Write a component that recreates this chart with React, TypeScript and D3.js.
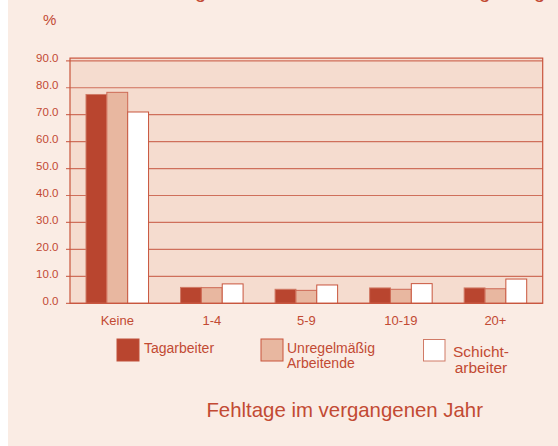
import * as d3 from "d3";

// Fehltage im vergangenen Jahr, Anteil in %
const categories = ["Keine", "1-4", "5-9", "10-19", "20+"];
const series = ["Tagarbeiter", "Unregelmäßig Arbeitende", "Schichtarbeiter"];
const tagarbeiter = [77.5, 5.9, 5.2, 5.7, 5.7];
const unregelmaessig = [78.3, 5.8, 4.8, 5.2, 5.4];
const schichtarbeiter = [71.0, 7.2, 6.8, 7.3, 9.0];
const yTicks = [0, 10, 20, 30, 40, 50, 60, 70, 80, 90];

const values = [tagarbeiter, unregelmaessig, schichtarbeiter];
const fills = ["#b9452f", "#e8b7a0", "#ffffff"];
const strokes = ["#d07a66", "#cd6a55", "#c8553d"];
const red = "#c24a33";

export default function App() {
  const width = 558;
  const height = 446;
  const left = 70;
  const right = 542.7;

  const x = d3.scaleBand().domain(categories).range([left, right]);
  const xs = d3
    .scaleBand()
    .domain(series)
    .range([16, x.bandwidth() - 16]);
  const y = d3.scaleLinear().domain([0, 90]).range([303.3, 60.8]);
  const top = y(91);

  return (
    <svg
      width={width}
      height={height}
      style={{ position: "absolute", left: 0, top: 0 }}
      fontFamily="'Liberation Sans', Arial, sans-serif"
    >
      <rect x={0} y={0} width={width} height={height} fill="#fff" />
      <rect x={8} y={0} width={width - 8} height={height} fill="#faece4" />

      {/* Titel, oben abgeschnitten */}
      <text
        x={30}
        y={-2}
        fontSize={20}
        fill={red}
        textLength={515}
        lengthAdjust="spacing"
      >
        Anteil der Fehltage nach Art der Arbeitszeitregelung
      </text>

      <text x={43} y={24.5} fontSize={15} fill={red}>
        %
      </text>

      {/* Plotbereich */}
      <rect
        x={left}
        y={top}
        width={right - left}
        height={y(0) - top}
        fill="#f5dccf"
      />
      {yTicks.map((t) => (
        <g key={t}>
          <line
            x1={66}
            x2={right}
            y1={y(t)}
            y2={y(t)}
            stroke="#cf6f5b"
            strokeWidth={1.2}
          />
          <text
            x={58.5}
            y={y(t) - 2.5}
            dy="0.35em"
            textAnchor="end"
            fontSize={11.5}
            fill={red}
          >
            {t.toFixed(1)}
          </text>
        </g>
      ))}

      {categories.map((c, i) => (
        <g key={c} transform={`translate(${x(c)},0)`}>
          {series.map((s, j) => (
            <rect
              key={s}
              x={xs(s)}
              y={y(values[j][i])}
              width={xs.bandwidth()}
              height={y(0) - y(values[j][i])}
              fill={fills[j]}
              stroke={strokes[j]}
              strokeWidth={1}
            />
          ))}
          <text
            x={x.bandwidth() / 2}
            y={325.3}
            textAnchor="middle"
            fontSize={13}
            fill={red}
          >
            {c}
          </text>
        </g>
      ))}

      <rect
        x={left}
        y={top}
        width={right - left}
        height={y(0) - top}
        fill="none"
        stroke="#c8553d"
        strokeWidth={1.2}
      />

      {/* Legende */}
      <rect x={117} y={339} width={22} height={22} fill={fills[0]} stroke="#c0503a" />
      <text x={144} y={352.7} fontSize={14} fill={red}>
        Tagarbeiter
      </text>

      <rect x={261} y={339} width={22} height={22} fill={fills[1]} stroke="#c8553d" />
      <text fontSize={14} fill={red}>
        <tspan x={287} y={352.7}>
          Unregelmäßig
        </tspan>
        <tspan x={287} y={367.5}>
          Arbeitende
        </tspan>
      </text>

      <rect x={423.5} y={339.5} width={21.5} height={21.5} fill={fills[2]} stroke="#d07a66" />
      <text fontSize={15.5} fill={red} textAnchor="middle">
        <tspan x={481} y={356.5}>
          Schicht-
        </tspan>
        <tspan x={481} y={373.3}>
          arbeiter
        </tspan>
      </text>

      <text x={344.7} y={416.7} textAnchor="middle" fontSize={20.4} fill={red}>
        Fehltage im vergangenen Jahr
      </text>
    </svg>
  );
}
